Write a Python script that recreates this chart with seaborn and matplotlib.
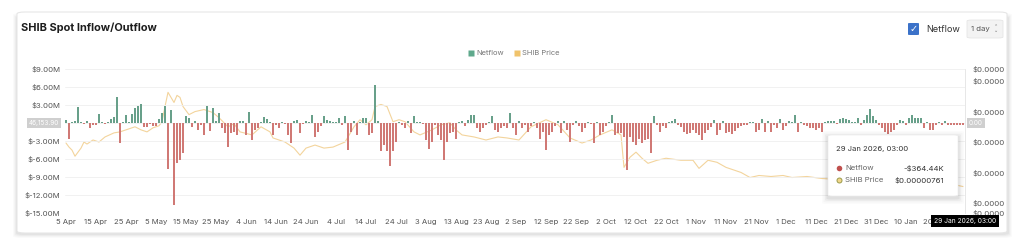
import matplotlib
matplotlib.use("Agg")
import matplotlib.pyplot as plt
import numpy as np
import pandas as pd
import seaborn as sns
from matplotlib.patches import FancyBboxPatch
from matplotlib.lines import Line2D
import matplotlib.ticker as mticker

# ---------------- data ----------------
start_date = "2025-04-05"

netflow_apr_may = [0.5, -2.7, 0.2, 0.3, 2.6, 0.2, -0.2, 0.3, -0.9, -0.3,
                   -0.4, 1.5, 0.1, -0.1, 0.1, 0.6, 1.0, 4.3, -3.4, 0.1,
                   1.3, 0.2, 1.5, 2.5, 2.8, 3.1, -0.6, -0.6, -0.2, -0.5,
                   -0.5, 0.6, 1.6, 2.8, -7.6, 2.2, -13.6, -6.7, -6.2, -5.0,
                   1.1, 0.8, -0.6, 0.3, -1.2, -0.4, -2.0, 2.9, -1.3, 2.5]
netflow_may_jul = [0.3, 1.6, -0.9, -1.7, -4.0, -1.7, -1.5, -2.0, 0.3, 0.3,
                   -2.0, 1.9, -2.8, -1.2, -0.8, 0.2, 1.0, 0.6, 0.2, -2.0,
                   -0.4, -0.9, 0.1, -0.2, -2.0, -3.4, 0.3, 0.5, -1.7, -0.2,
                   0.3, 0.1, 1.3, -2.3, -1.5, -0.5, 1.1, 0.5, 0.3, 0.1,
                   0.2, 0.8, -0.3, 1.1, -4.5, -1.5, 0.3, -2.0, 0.2]
netflow_jul_aug = [0.8, 0.8, -2.0, -1.7, 6.4, 0.3, -4.6, -3.7, -4.6, -7.2,
                   -4.6, -3.1, 0.1, -0.4, -0.9, 0.3, -1.6, 1.2, 0.1, 0.2,
                   -0.2, -2.9, -4.4, -3.1, -0.3, -2.0, -2.9, -6.2, -3.1, -1.7,
                   -1.5, -2.6, 0.1, 0.4, -0.5, 0.5, 1.3, 1.3, -0.9, -1.5,
                   -0.9, -0.4, 0.1, 1.2, -1.2, -1.5, -0.9, -0.5, -0.9, 1.6]
netflow_sep_oct = [-0.9, -2.0, 0.3, -0.9, -0.3, -1.5, -0.5, 0.1, -0.9, -2.6,
                   -1.5, -4.5, -2.0, -1.5, -0.5, 0.3, -1.7, 0.3, -1.2, -3.1,
                   -0.3, 0.4, -0.5, -1.5, -0.9, 0.1, -0.2, -3.3, 0.1, -2.0,
                   -1.5, -0.5, 0.1, 1.3, -2.0, -1.7, -1.7, -2.3, -7.8, -2.3,
                   -3.1, -3.7, -2.6, -3.4, -2.9, -2.6, -5.0, 1.1, -0.3, -1.5]
netflow_oct_dec = [-0.5, -0.9, 0.1, 0.3, 0.7, -0.4, -0.6, -1.5, -1.9, -1.6,
                   -1.2, -1.7, -2.0, -2.9, -1.7, -1.2, -0.6, 0.5, -2.0, -1.2,
                   0.3, -1.7, -1.5, -1.9, -1.3, -0.9, -0.5, -0.4, -0.3, 0.1,
                   0.1, -1.5, -1.1, 0.6, -1.5, 0.3, -1.5, -0.4, -0.9, 0.6,
                   -1.1, -0.5, 0.3, 0.1, 1.3, -1.5, 0.1, -0.4, -0.5]
netflow_dec_jan = [-0.9, -0.9, -1.2, -0.9, -1.5, 0.1, 0.3, 0.4, 0.3, -0.2,
                   0.6, 0.8, 0.6, 0.5, 0.1, 0.1, 0.8, -0.4, 0.5, 1.3,
                   2.3, 1.1, 0.5, -0.4, -0.9, -1.5, -1.9, -1.5, -1.2, -0.3,
                   0.5, 0.3, -0.4, 0.8, 1.3, 0.8, 0.8, 0.8, -0.9, 0.1,
                   -1.1, -1.2, -0.4, 0.1, -0.3, 0.3, -0.3, -0.4, -0.3, -0.36,
                   -0.3, -0.36444]

# SHIB price, in millionths of a dollar, at the days (offset from 5 Apr) where it was read
price_days = [0, 1, 2, 3, 4, 5, 6, 7, 9, 11, 13, 16, 18, 20, 23, 25, 27, 29, 31, 32,
              33, 34, 35, 36, 37, 38, 39, 41, 43, 46, 49, 51, 54, 56, 58, 62, 65, 68, 69, 73,
              76, 78, 80, 83, 86, 89, 93, 96, 98, 100, 102, 103, 105, 107, 109, 111, 113, 116, 118, 122,
              125, 128, 130, 132, 136, 140, 144, 147, 151, 155, 160, 164, 168, 172, 175, 178, 182, 185, 186, 188,
              190, 192, 194, 197, 200, 205, 209, 211, 214, 217, 220, 225, 228, 231, 235, 239, 242, 247, 252, 258,
              265, 272, 278, 285, 292, 296, 299]
price_micro = [11.9, 11.5, 11.2, 10.6, 11.0, 11.4, 12.0, 11.8, 12.2, 12.0, 12.5, 12.9, 13.0, 13.2, 13.5, 13.2, 13.0, 13.4, 13.6, 14.0,
               15.5, 16.9, 16.4, 15.9, 16.6, 16.4, 15.5, 14.7, 15.0, 15.2, 14.9, 14.4, 13.5, 13.8, 13.0, 12.7, 13.5, 13.0, 12.4, 12.0,
               11.4, 10.7, 11.4, 11.7, 11.4, 11.5, 12.0, 13.5, 14.2, 13.7, 14.2, 15.5, 15.7, 15.5, 14.0, 14.2, 14.0, 13.0, 12.7, 13.2,
               13.7, 13.9, 13.2, 12.7, 12.5, 12.2, 12.5, 12.4, 12.2, 13.5, 14.2, 13.7, 12.4, 11.9, 12.2, 12.7, 13.2, 12.7, 9.5, 10.5,
               11.0, 10.4, 9.9, 10.2, 10.4, 10.2, 10.2, 9.4, 10.2, 10.0, 9.5, 9.0, 8.5, 8.7, 8.6, 8.7, 8.5, 8.6, 8.4, 8.3,
               8.2, 8.5, 8.2, 8.0, 7.9, 7.8, 7.61]

left_ticks = [-15, -12, -9, -6, -3, 0, 3, 6, 9]
left_tick_labels = ["$-15.00M", "$-12.00M", "$-9.00M", "$-6.00M", "$-3.00M", "", "$3.00M", "$6.00M", "$9.00M"]
right_ticks_micro = [5.0, 6.0, 9.0, 12.0, 15.0, 18.0, 19.2]
x_tick_labels = ["5 Apr", "15 Apr", "25 Apr", "5 May", "15 May", "25 May", "4 Jun", "14 Jun", "24 Jun",
                 "4 Jul", "14 Jul", "24 Jul", "3 Aug", "13 Aug", "23 Aug", "2 Sep", "12 Sep", "22 Sep",
                 "2 Oct", "12 Oct", "22 Oct", "1 Nov", "11 Nov", "21 Nov", "1 Dec", "11 Dec", "21 Dec",
                 "31 Dec", "10 Jan", "20 Jan"]

netflow = (netflow_apr_may + netflow_may_jul + netflow_jul_aug +
           netflow_sep_oct + netflow_oct_dec + netflow_dec_jan)
df = pd.DataFrame({"day": np.arange(len(netflow)), "netflow": netflow})
df["dir"] = np.where(df["netflow"] >= 0, "in", "out")
price_df = pd.DataFrame({"day": price_days, "price": np.array(price_micro) * 1e-6})

# ---------------- styling ----------------
GREEN = "#5fa98c"
RED = "#df6b66"
PRICE = "#f3d49c"
TXT = "#555555"

sns.set_theme(style="white")
plt.rcParams["font.family"] = ["Inter", "DejaVu Sans"]

W, H = 1024, 244
fig = plt.figure(figsize=(W / 100, H / 100), dpi=100)
fig.patch.set_facecolor("white")

def fx(x):
    return x / W

def fy(y):
    return 1 - y / H

# card with shadow
for i, a in enumerate([0.035, 0.03, 0.025, 0.02]):
    off = 1 + i
    sh = FancyBboxPatch((fx(17 - off), fy(234 + off)), fx(991 + 2 * off), (217 + 2 * off) / H,
                        boxstyle="round,pad=0,rounding_size=0.008", transform=fig.transFigure,
                        facecolor="black", edgecolor="none", alpha=a, zorder=0)
    fig.patches.append(sh)
card = FancyBboxPatch((fx(17), fy(233)), fx(990), 221 / H,
                      boxstyle="round,pad=0,rounding_size=0.008", transform=fig.transFigure,
                      facecolor="white", edgecolor="#e6e6e6", lw=0.8, zorder=0.5)
fig.patches.append(card)

# main axes
ax = fig.add_axes([fx(64.5), fy(213), 900 / W, 144 / H])
ax.set_facecolor("none")
sns.barplot(data=df, x="day", y="netflow", hue="dir", palette={"in": GREEN, "out": RED},
            native_scale=True, dodge=False, width=0.64, errorbar=None, legend=False,
            ax=ax, linewidth=0, zorder=3)
ax.set_xlim(-0.5, len(netflow) - 0.5)
ax.set_ylim(-15, 9)
ax.set_yticks(left_ticks)
ax.set_yticklabels(left_tick_labels)
ax.set_xticks(np.arange(0, len(netflow), 10)[:len(x_tick_labels)])
ax.set_xticklabels(x_tick_labels[:len(ax.get_xticks())])
ax.tick_params(axis="both", length=0, labelsize=5.6, labelcolor=TXT, pad=3)
ax.tick_params(axis="x", pad=4)
ax.grid(axis="y", color="#efefef", lw=0.6, zorder=0)
ax.set_axisbelow(True)
ax.set_xlabel("")
ax.set_ylabel("")
for s in ax.spines.values():
    s.set_visible(False)
ax.spines["right"].set_visible(True)
ax.spines["right"].set_color("#e3e3e3")
ax.spines["right"].set_linewidth(0.6)

# price axis
ax2 = ax.twinx()
sns.lineplot(data=price_df, x="day", y="price", ax=ax2, color=PRICE, lw=0.8, zorder=1)
ax2.set_ylim(right_ticks_micro[0] * 1e-6, right_ticks_micro[-1] * 1e-6)
ax2.set_yticks([v * 1e-6 for v in right_ticks_micro])
ax2.yaxis.set_major_formatter(mticker.FuncFormatter(lambda v, p: f"${v:.4f}"))
ax2.tick_params(axis="y", length=0, labelsize=5.6, labelcolor=TXT, pad=6)
ax2.set_ylabel("")
ax2.set_xlabel("")
for s in ax2.spines.values():
    s.set_visible(False)
ax2.set_zorder(1)
ax.set_zorder(2)

# title
fig.text(fx(21), fy(28), "SHIB Spot Inflow/Outflow", fontsize=7.9, fontweight="bold",
         color="#1d1d1d", va="center", ha="left")

# legend
handles = [Line2D([], [], marker="s", ls="none", markersize=4.2, markerfacecolor=GREEN,
                  markeredgecolor="none", label="Netflow"),
           Line2D([], [], marker="s", ls="none", markersize=4.2, markerfacecolor="#f0c36b",
                  markeredgecolor="none", label="SHIB Price")]
fig.legend(handles=handles, loc="center", bbox_to_anchor=(fx(514), fy(53)), ncol=2, frameon=False,
           fontsize=5.4, handlelength=0.8, handletextpad=0.3, columnspacing=1.3,
           labelcolor="#777777")

# checkbox + interval selector
cb = FancyBboxPatch((fx(908), fy(35)), fx(11), 12 / H, boxstyle="round,pad=0,rounding_size=0.002",
                    transform=fig.transFigure, facecolor="#3b72c9", edgecolor="none", zorder=3)
fig.patches.append(cb)
fig.text(fx(913.5), fy(29), "✓", color="white", fontsize=7, ha="center", va="center",
         fontweight="bold", family=["DejaVu Sans"], zorder=4)
fig.text(fx(926), fy(29), "Netflow", color="#333333", fontsize=6.6, ha="left", va="center")
sel = FancyBboxPatch((fx(967), fy(38)), fx(36), 18 / H, boxstyle="round,pad=0,rounding_size=0.004",
                     transform=fig.transFigure, facecolor="#f3f3f3", edgecolor="#e2e2e2", lw=0.5, zorder=3)
fig.patches.append(sel)
fig.text(fx(971), fy(29), "1 day", color="#555555", fontsize=5.6, ha="left", va="center", zorder=4)
fig.text(fx(996), fy(29), "⌃\n⌄", color="#777777", fontsize=3.6, ha="center", va="center",
         linespacing=0.6, family=["DejaVu Sans"], zorder=4)

# crosshair value labels
fig.text(fx(44), fy(123), "46,153.90", fontsize=4.6, color="white", ha="center", va="center",
         bbox=dict(boxstyle="square,pad=0.35", facecolor="#cfcfcf", edgecolor="none"), zorder=5)
fig.text(fx(976), fy(123), "0.00", fontsize=4.6, color="white", ha="center", va="center",
         bbox=dict(boxstyle="square,pad=0.35", facecolor="#cfcfcf", edgecolor="none"), zorder=5)
fig.text(fx(965), fy(221), "29 Jan 2026, 03:00", fontsize=4.8, color="white", ha="center", va="center",
         bbox=dict(boxstyle="square,pad=0.45", facecolor="black", edgecolor="none"), zorder=6)

# tooltip
for i, a in enumerate([0.05, 0.035, 0.025, 0.015]):
    off = 1.5 * (i + 1)
    sh = FancyBboxPatch((fx(828 - off), fy(196 + off + 2)), fx(130 + 2 * off), (61 + 2 * off) / H,
                        boxstyle="round,pad=0,rounding_size=0.004", transform=fig.transFigure,
                        facecolor="black", edgecolor="none", alpha=a, zorder=6)
    fig.patches.append(sh)
tip = FancyBboxPatch((fx(828), fy(196)), fx(130), 61 / H, boxstyle="round,pad=0,rounding_size=0.004",
                     transform=fig.transFigure, facecolor="white", edgecolor="#ececec", lw=0.5, zorder=7)
fig.patches.append(tip)
fig.text(fx(836), fy(149), "29 Jan 2026, 03:00", fontsize=5.5, color="#333333", ha="left", va="center", zorder=8)
fig.add_artist(Line2D([fx(839)], [fy(168)], transform=fig.transFigure, marker="o", ls="none",
                      markersize=4, markerfacecolor="#c0504d", markeredgecolor="none", zorder=8))
fig.text(fx(845), fy(168), "Netflow", fontsize=5.6, color="#666666", ha="left", va="center", zorder=8)
fig.text(fx(944), fy(168), "-$364.44K", fontsize=5.6, color="#333333", ha="right", va="center", zorder=8)
fig.add_artist(Line2D([fx(839)], [fy(180)], transform=fig.transFigure, marker="o", ls="none",
                      markersize=3.6, markerfacecolor="#f1d68a", markeredgecolor="#9a9a4a",
                      markeredgewidth=0.7, zorder=8))
fig.text(fx(845), fy(180), "SHIB Price", fontsize=5.6, color="#666666", ha="left", va="center", zorder=8)
fig.text(fx(944), fy(180), "$0.00000761", fontsize=5.6, color="#333333", ha="right", va="center", zorder=8)

fig.savefig("out.png", dpi=100, facecolor="white")
